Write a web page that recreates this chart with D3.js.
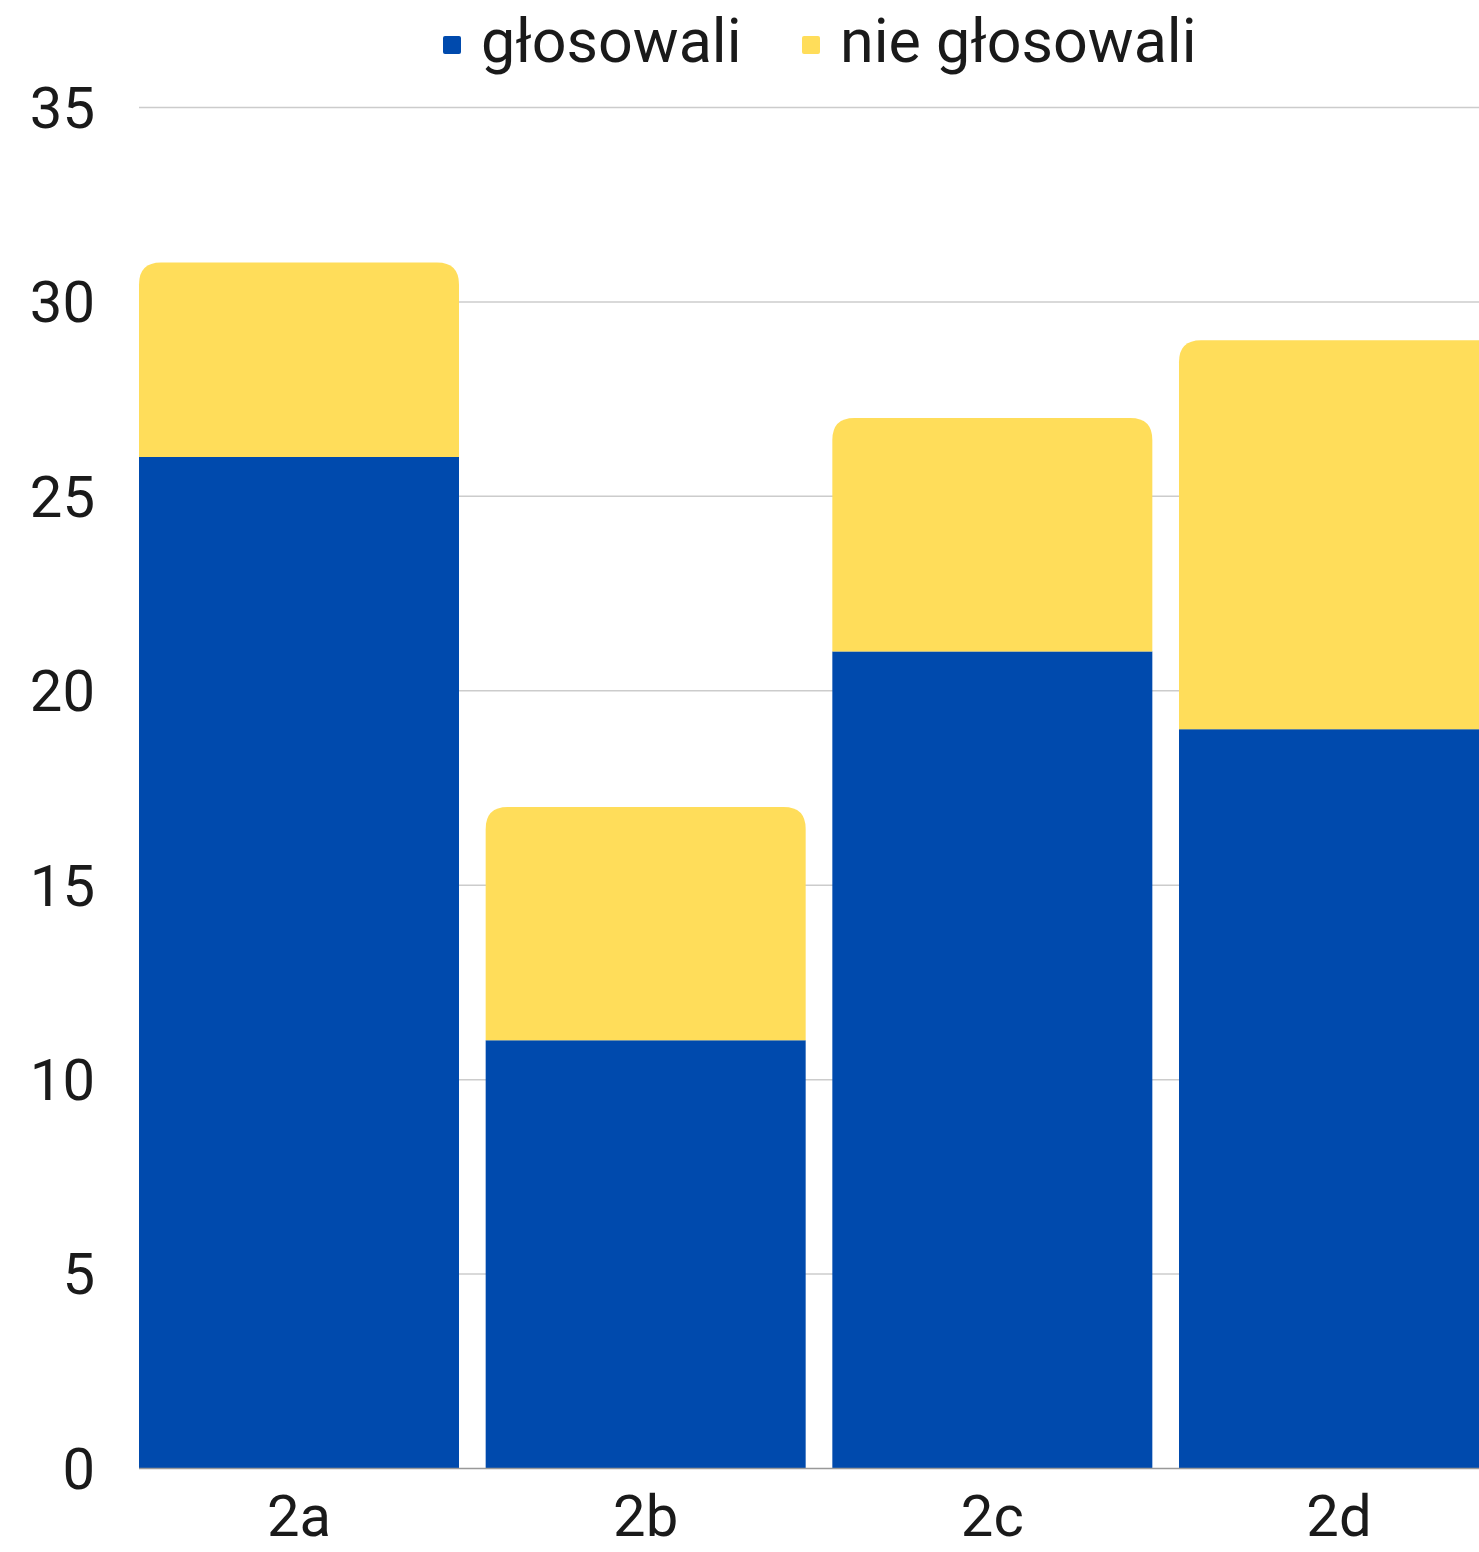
<!DOCTYPE html>
<html><head><meta charset="utf-8">
<script src="https://cdn.jsdelivr.net/npm/d3@7"></script>
<style>body{margin:0;background:#fff}svg{display:block}text{font-family:Roboto,"Noto Sans",sans-serif;fill:#1a1a1a}</style>
</head><body>
<script>
const categories = ["2a","2b","2c","2d"];
const seriesNames = ["głosowali","nie głosowali"];
const voted = [26,11,21,19];
const notVoted = [5,6,6,10];
const yTicks = [0,5,10,15,20,25,30,35];
const colors = ["#004AAD","#FFDD5A"];

const W=1479,H=1552;
const svg=d3.select("body").append("svg").attr("width",W).attr("height",H);
const y=d3.scaleLinear().domain([0,35]).range([1468,107]);
const x=d3.scaleBand().domain(categories).range([139,1499]).paddingInner(26.67/346.67).paddingOuter(0);

// grid
svg.append("g").selectAll("line").data(yTicks.filter(d=>d>0)).join("line")
 .attr("x1",139).attr("x2",W).attr("y1",d=>y(d)+0.5).attr("y2",d=>y(d)+0.5)
 .attr("stroke","#cccccc").attr("stroke-width",1.5);
// y labels
svg.append("g").selectAll("text").data(yTicks).join("text")
 .attr("x",95).attr("y",d=>y(d)).attr("dy","0.36em").attr("text-anchor","end")
 .attr("font-size",58).text(d=>d);

const data=categories.map((c,i)=>({c,v:voted[i],n:notVoted[i]}));
// blue
svg.append("g").selectAll("rect").data(data).join("rect")
 .attr("x",d=>x(d.c)).attr("width",x.bandwidth())
 .attr("y",d=>y(d.v)).attr("height",d=>y(0)-y(d.v)).attr("fill",colors[0]);
// yellow with rounded top
const r=22;
svg.append("g").selectAll("path").data(data).join("path")
 .attr("fill",colors[1])
 .attr("d",d=>{const x0=x(d.c),x1=x0+x.bandwidth(),yt=y(d.v+d.n),yb=y(d.v);
   return `M${x0},${yb}V${yt+r}Q${x0},${yt} ${x0+r},${yt}H${x1-r}Q${x1},${yt} ${x1},${yt+r}V${yb}Z`;});
// baseline
svg.append("line").attr("x1",139).attr("x2",W).attr("y1",y(0)+0.5).attr("y2",y(0)+0.5)
 .attr("stroke","#999").attr("stroke-width",1.5);
// x labels
svg.append("g").selectAll("text").data(categories).join("text")
 .attr("x",d=>x(d)+x.bandwidth()/2).attr("y",1536).attr("text-anchor","middle")
 .attr("font-size",58).text(d=>d);
// legend
const leg=[{x:443,tx:481},{x:802,tx:840}];
seriesNames.forEach((s,i)=>{
  svg.append("rect").attr("x",leg[i].x).attr("y",36).attr("width",18).attr("height",18).attr("rx",2).attr("fill",colors[i]);
  svg.append("text").attr("x",leg[i].tx).attr("y",62).attr("font-size",61).text(s);
});
</script>
</body></html>
